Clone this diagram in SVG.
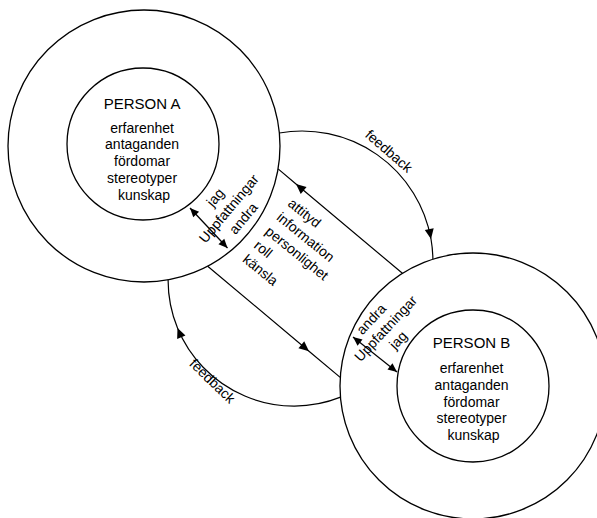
<svg xmlns="http://www.w3.org/2000/svg" width="597" height="518" viewBox="0 0 597 518">
  <style>
    .ring { fill: none; stroke: #000; stroke-width: 1.3; }
    .link { fill: none; stroke: #000; stroke-width: 1.2; }
    text { font-family: "Liberation Sans", Arial, Helvetica, sans-serif; font-size: 14px; fill: #000; }
    .title { font-size: 15px; }
    .c { text-anchor: middle; }
  </style>
  <defs>
    <!-- filled arrowhead, tip on the vertex it is attached to -->
    <marker id="head" viewBox="-11 -5 12 10" refX="0" refY="0" markerWidth="12" markerHeight="10" markerUnits="userSpaceOnUse" orient="auto">
      <path d="M0,0 L-10,-4.5 L-10,4.5 z" fill="#000"/>
    </marker>
    <marker id="tip" viewBox="-10 -5 11 10" refX="0" refY="0" markerWidth="11" markerHeight="10" markerUnits="userSpaceOnUse" orient="auto-start-reverse">
      <path d="M0,0 L-9,-4 L-9,4 z" fill="#000"/>
    </marker>
  </defs>

  <!-- Person A -->
  <g id="person-a">
    <circle class="ring" cx="144" cy="146" r="136"/>
    <circle class="ring" cx="143" cy="144" r="76"/>
    <text class="c" x="144">
      <tspan class="title" x="144" y="109">PERSON A</tspan>
      <tspan x="144" y="132.5">erfarenhet</tspan>
      <tspan x="144" y="149.3">antaganden</tspan>
      <tspan x="144" y="166.1">fördomar</tspan>
      <tspan x="144" y="182.9">stereotyper</tspan>
      <tspan x="144" y="199.7">kunskap</tspan>
    </text>
    <text class="c" transform="translate(231,208) rotate(-50)">
      <tspan x="0" y="-14">jag</tspan>
      <tspan x="0" y="3.5">Uppfattningar</tspan>
      <tspan x="0" y="21">andra</tspan>
    </text>
  </g>

  <!-- Person B -->
  <g id="person-b">
    <circle class="ring" cx="473" cy="386" r="133"/>
    <circle class="ring" cx="473" cy="386" r="76"/>
    <text class="c">
      <tspan class="title" x="473.5" y="348">PERSON B</tspan>
      <tspan x="473.5" y="373">erfarenhet</tspan>
      <tspan x="473.5" y="389.8">antaganden</tspan>
      <tspan x="473.5" y="406.6">fördomar</tspan>
      <tspan x="473.5" y="423.4">stereotyper</tspan>
      <tspan x="473.5" y="440.2">kunskap</tspan>
    </text>
    <text class="c" transform="translate(388,328) rotate(-47)">
      <tspan x="-3" y="-13.5">andra</tspan>
      <tspan x="0" y="3.5">Uppfattningar</tspan>
      <tspan x="-2" y="20.5">jag</tspan>
    </text>
  </g>

  <!-- Connectors -->
  <g id="connectors">
    <!-- feedback from A to B (top) -->
    <path class="link" marker-mid="url(#head)" d="M279.3,133 A131,131 0 0 1 431,239 A131,131 0 0 1 432.9,259.3"/>
    <!-- feedback from B to A (bottom) -->
    <path class="link" marker-mid="url(#head)" d="M340.6,397.1 A126,126 0 0 1 177.5,328 A126,126 0 0 1 168.1,279.8"/>
    <!-- messages B to A -->
    <path class="link" marker-mid="url(#head)" d="M402.4,273.3 L296,184 L278.1,168.9"/>
    <!-- messages A to B -->
    <path class="link" marker-mid="url(#head)" d="M207.7,266.2 L309,351.2 L340.2,377.4"/>
    <!-- perceptions inside each person -->
    <path class="link" marker-start="url(#tip)" marker-end="url(#tip)" d="M190,208 L227.5,248"/>
    <path class="link" marker-start="url(#tip)" marker-end="url(#tip)" d="M353,337 L397,372"/>

    <text class="c" transform="translate(389,151) rotate(41)" x="0" y="5">feedback</text>
    <text class="c" transform="translate(212.5,381) rotate(44)" x="0" y="5">feedback</text>
    <text transform="translate(287,205) rotate(39)">
      <tspan x="0" y="0">attityd</tspan>
      <tspan x="0" y="18">information</tspan>
      <tspan x="0" y="36">personlighet</tspan>
      <tspan x="0" y="54">roll</tspan>
      <tspan x="0" y="72">känsla</tspan>
    </text>
  </g>
</svg>
